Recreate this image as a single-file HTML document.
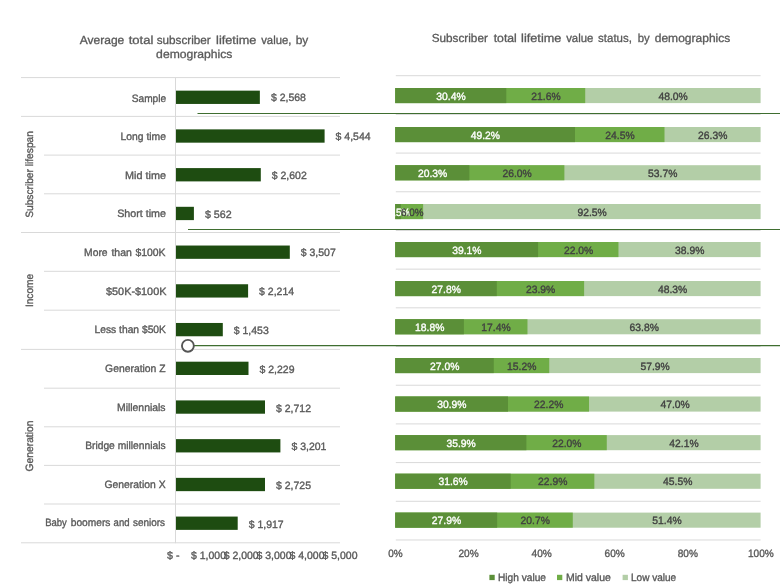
<!DOCTYPE html>
<html lang="en">
<head>
<meta charset="utf-8">
<title>Subscriber lifetime value by demographics</title>
<style>
html,body{margin:0;padding:0;background:#ffffff;}
body{width:780px;height:586px;overflow:hidden;}
svg{display:block;font-family:"Liberation Sans", sans-serif;text-rendering:geometricPrecision;}
</style>
</head>
<body>
<svg width="780" height="586" viewBox="0 0 780 586">
<rect x="0" y="0" width="780" height="586" fill="#ffffff"/>
<line x1="21" y1="77.60" x2="340" y2="77.60" stroke="#d9d9d9" stroke-width="1"/>
<line x1="21" y1="116.40" x2="340" y2="116.40" stroke="#d9d9d9" stroke-width="1"/>
<line x1="44" y1="155.10" x2="340" y2="155.10" stroke="#d9d9d9" stroke-width="1"/>
<line x1="44" y1="193.80" x2="340" y2="193.80" stroke="#d9d9d9" stroke-width="1"/>
<line x1="21" y1="232.50" x2="340" y2="232.50" stroke="#d9d9d9" stroke-width="1"/>
<line x1="44" y1="271.30" x2="340" y2="271.30" stroke="#d9d9d9" stroke-width="1"/>
<line x1="44" y1="310.20" x2="340" y2="310.20" stroke="#d9d9d9" stroke-width="1"/>
<line x1="21" y1="349.40" x2="340" y2="349.40" stroke="#d9d9d9" stroke-width="1"/>
<line x1="44" y1="388.20" x2="340" y2="388.20" stroke="#d9d9d9" stroke-width="1"/>
<line x1="44" y1="426.80" x2="340" y2="426.80" stroke="#d9d9d9" stroke-width="1"/>
<line x1="44" y1="465.40" x2="340" y2="465.40" stroke="#d9d9d9" stroke-width="1"/>
<line x1="44" y1="504.00" x2="340" y2="504.00" stroke="#d9d9d9" stroke-width="1"/>
<line x1="21" y1="542.80" x2="340" y2="542.80" stroke="#d9d9d9" stroke-width="1"/>
<line x1="175.5" y1="77.6" x2="175.5" y2="543.2" stroke="#d9d9d9" stroke-width="1"/>
<rect x="176.0" y="90.65" width="83.85" height="13.3" fill="#1e4c11"/>
<text y="101.6" font-size="10.6" fill="#595959" stroke="#595959" stroke-width="0.35"><tspan x="131.72" textLength="34.40" lengthAdjust="spacingAndGlyphs">Sample</tspan></text>
<text x="270.9" y="101.2" font-size="10.6" fill="#595959" stroke="#595959" stroke-width="0.35" text-anchor="start" textLength="35.0" lengthAdjust="spacingAndGlyphs">$ 2,568</text>
<rect x="176.0" y="129.37" width="148.60" height="13.3" fill="#1e4c11"/>
<text y="140.2" font-size="10.6" fill="#595959" stroke="#595959" stroke-width="0.35"><tspan x="120.54" textLength="45.42" lengthAdjust="spacingAndGlyphs">Long time</tspan></text>
<text x="335.6" y="140.0" font-size="10.6" fill="#595959" stroke="#595959" stroke-width="0.35" text-anchor="start" textLength="35.0" lengthAdjust="spacingAndGlyphs">$ 4,544</text>
<rect x="176.0" y="168.09" width="84.80" height="13.3" fill="#1e4c11"/>
<text y="178.8" font-size="10.6" fill="#595959" stroke="#595959" stroke-width="0.35"><tspan x="125.04" textLength="40.92" lengthAdjust="spacingAndGlyphs">Mid time</tspan></text>
<text x="271.8" y="178.8" font-size="10.6" fill="#595959" stroke="#595959" stroke-width="0.35" text-anchor="start" textLength="35.0" lengthAdjust="spacingAndGlyphs">$ 2,602</text>
<rect x="176.0" y="206.81" width="17.90" height="13.3" fill="#1e4c11"/>
<text y="217.4" font-size="10.6" fill="#595959" stroke="#595959" stroke-width="0.35"><tspan x="117.16" textLength="48.80" lengthAdjust="spacingAndGlyphs">Short time</tspan></text>
<text x="204.9" y="217.6" font-size="10.6" fill="#595959" stroke="#595959" stroke-width="0.35" text-anchor="start" textLength="26.7" lengthAdjust="spacingAndGlyphs">$ 562</text>
<rect x="176.0" y="245.53" width="113.80" height="13.3" fill="#1e4c11"/>
<text y="256.0" font-size="10.6" fill="#595959" stroke="#595959" stroke-width="0.35"><tspan x="84.10" textLength="23.48" lengthAdjust="spacingAndGlyphs">More</tspan> <tspan x="111.42" textLength="20.42" lengthAdjust="spacingAndGlyphs">than</tspan> <tspan x="135.42" textLength="30.16" lengthAdjust="spacingAndGlyphs">$100K</tspan></text>
<text x="300.8" y="256.4" font-size="10.6" fill="#595959" stroke="#595959" stroke-width="0.35" text-anchor="start" textLength="35.0" lengthAdjust="spacingAndGlyphs">$ 3,507</text>
<rect x="176.0" y="284.25" width="72.10" height="13.3" fill="#1e4c11"/>
<text y="294.6" font-size="10.6" fill="#595959" stroke="#595959" stroke-width="0.35"><tspan x="106.02" textLength="60.42" lengthAdjust="spacingAndGlyphs">$50K-$100K</tspan></text>
<text x="259.1" y="295.2" font-size="10.6" fill="#595959" stroke="#595959" stroke-width="0.35" text-anchor="start" textLength="35.0" lengthAdjust="spacingAndGlyphs">$ 2,214</text>
<rect x="176.0" y="322.97" width="46.80" height="13.3" fill="#1e4c11"/>
<text y="333.3" font-size="10.6" fill="#595959" stroke="#595959" stroke-width="0.35"><tspan x="94.48" textLength="71.48" lengthAdjust="spacingAndGlyphs">Less than $50K</tspan></text>
<text x="233.8" y="334.0" font-size="10.6" fill="#595959" stroke="#595959" stroke-width="0.35" text-anchor="start" textLength="35.0" lengthAdjust="spacingAndGlyphs">$ 1,453</text>
<rect x="176.0" y="361.69" width="72.50" height="13.3" fill="#1e4c11"/>
<text y="371.9" font-size="10.6" fill="#595959" stroke="#595959" stroke-width="0.35"><tspan x="105.10" textLength="60.48" lengthAdjust="spacingAndGlyphs">Generation Z</tspan></text>
<text x="259.5" y="372.8" font-size="10.6" fill="#595959" stroke="#595959" stroke-width="0.35" text-anchor="start" textLength="35.0" lengthAdjust="spacingAndGlyphs">$ 2,229</text>
<rect x="176.0" y="400.41" width="89.00" height="13.3" fill="#1e4c11"/>
<text y="410.5" font-size="10.6" fill="#595959" stroke="#595959" stroke-width="0.35"><tspan x="116.98" textLength="48.60" lengthAdjust="spacingAndGlyphs">Millennials</tspan></text>
<text x="276.0" y="411.6" font-size="10.6" fill="#595959" stroke="#595959" stroke-width="0.35" text-anchor="start" textLength="35.0" lengthAdjust="spacingAndGlyphs">$ 2,712</text>
<rect x="176.0" y="439.13" width="104.40" height="13.3" fill="#1e4c11"/>
<text y="449.1" font-size="10.6" fill="#595959" stroke="#595959" stroke-width="0.35"><tspan x="85.16" textLength="80.42" lengthAdjust="spacingAndGlyphs">Bridge millennials</tspan></text>
<text x="291.4" y="450.4" font-size="10.6" fill="#595959" stroke="#595959" stroke-width="0.35" text-anchor="start" textLength="35.0" lengthAdjust="spacingAndGlyphs">$ 3,201</text>
<rect x="176.0" y="477.85" width="89.00" height="13.3" fill="#1e4c11"/>
<text y="487.7" font-size="10.6" fill="#595959" stroke="#595959" stroke-width="0.35"><tspan x="104.54" textLength="61.04" lengthAdjust="spacingAndGlyphs">Generation X</tspan></text>
<text x="276.0" y="489.1" font-size="10.6" fill="#595959" stroke="#595959" stroke-width="0.35" text-anchor="start" textLength="35.0" lengthAdjust="spacingAndGlyphs">$ 2,725</text>
<rect x="176.0" y="516.57" width="61.70" height="13.3" fill="#1e4c11"/>
<text y="526.3" font-size="10.6" fill="#595959" stroke="#595959" stroke-width="0.35"><tspan x="45.16" textLength="21.70" lengthAdjust="spacingAndGlyphs">Baby</tspan> <tspan x="70.72" textLength="39.68" lengthAdjust="spacingAndGlyphs">boomers</tspan> <tspan x="113.60" textLength="15.92" lengthAdjust="spacingAndGlyphs">and</tspan> <tspan x="133.04" textLength="32.04" lengthAdjust="spacingAndGlyphs">seniors</tspan></text>
<text x="248.7" y="527.9" font-size="10.6" fill="#595959" stroke="#595959" stroke-width="0.35" text-anchor="start" textLength="35.0" lengthAdjust="spacingAndGlyphs">$ 1,917</text>
<text transform="translate(32.9,217.8) rotate(-90)" font-size="10.6" fill="#595959" stroke="#595959" stroke-width="0.35" textLength="86.7" lengthAdjust="spacingAndGlyphs">Subscriber lifespan</text>
<text transform="translate(32.9,307.1) rotate(-90)" font-size="10.6" fill="#595959" stroke="#595959" stroke-width="0.35" textLength="33.3" lengthAdjust="spacingAndGlyphs">Income</text>
<text transform="translate(32.9,471.4) rotate(-90)" font-size="10.6" fill="#595959" stroke="#595959" stroke-width="0.35" textLength="50.8" lengthAdjust="spacingAndGlyphs">Generation</text>
<text x="167.0" y="558.9" font-size="10.6" fill="#595959" stroke="#595959" stroke-width="0.35" text-anchor="start" textLength="12.5" lengthAdjust="spacingAndGlyphs">$ -</text>
<text x="191.0" y="558.9" font-size="10.6" fill="#595959" stroke="#595959" stroke-width="0.35" text-anchor="start" textLength="35.0" lengthAdjust="spacingAndGlyphs">$ 1,000</text>
<text x="223.7" y="558.9" font-size="10.6" fill="#595959" stroke="#595959" stroke-width="0.35" text-anchor="start" textLength="35.0" lengthAdjust="spacingAndGlyphs">$ 2,000</text>
<text x="256.5" y="558.9" font-size="10.6" fill="#595959" stroke="#595959" stroke-width="0.35" text-anchor="start" textLength="35.0" lengthAdjust="spacingAndGlyphs">$ 3,000</text>
<text x="289.5" y="558.9" font-size="10.6" fill="#595959" stroke="#595959" stroke-width="0.35" text-anchor="start" textLength="35.0" lengthAdjust="spacingAndGlyphs">$ 4,000</text>
<text x="322.5" y="558.9" font-size="10.6" fill="#595959" stroke="#595959" stroke-width="0.35" text-anchor="start" textLength="35.0" lengthAdjust="spacingAndGlyphs">$ 5,000</text>
<text y="44.0" font-size="11.7" fill="#595959" stroke="#595959" stroke-width="0.3"><tspan x="79.68" textLength="44.60" lengthAdjust="spacingAndGlyphs">Average</tspan> <tspan x="128.72" textLength="24.68" lengthAdjust="spacingAndGlyphs">total</tspan> <tspan x="156.72" textLength="54.06" lengthAdjust="spacingAndGlyphs">subscriber</tspan> <tspan x="216.14" textLength="40.26" lengthAdjust="spacingAndGlyphs">lifetime</tspan> <tspan x="261.18" textLength="30.22" lengthAdjust="spacingAndGlyphs">value,</tspan> <tspan x="295.68" textLength="12.60" lengthAdjust="spacingAndGlyphs">by</tspan></text>
<text y="58.4" font-size="11.7" fill="#595959" stroke="#595959" stroke-width="0.3"><tspan x="156.14" textLength="76.26" lengthAdjust="spacingAndGlyphs">demographics</tspan></text>
<line x1="395.8" y1="75.70" x2="760.6" y2="75.70" stroke="#d9d9d9" stroke-width="1"/>
<line x1="395.8" y1="114.39" x2="760.6" y2="114.39" stroke="#d9d9d9" stroke-width="1"/>
<line x1="395.8" y1="153.08" x2="760.6" y2="153.08" stroke="#d9d9d9" stroke-width="1"/>
<line x1="395.8" y1="191.77" x2="760.6" y2="191.77" stroke="#d9d9d9" stroke-width="1"/>
<line x1="395.8" y1="230.46" x2="760.6" y2="230.46" stroke="#d9d9d9" stroke-width="1"/>
<line x1="395.8" y1="269.15" x2="760.6" y2="269.15" stroke="#d9d9d9" stroke-width="1"/>
<line x1="395.8" y1="307.84" x2="760.6" y2="307.84" stroke="#d9d9d9" stroke-width="1"/>
<line x1="395.8" y1="346.53" x2="760.6" y2="346.53" stroke="#d9d9d9" stroke-width="1"/>
<line x1="395.8" y1="385.22" x2="760.6" y2="385.22" stroke="#d9d9d9" stroke-width="1"/>
<line x1="395.8" y1="423.91" x2="760.6" y2="423.91" stroke="#d9d9d9" stroke-width="1"/>
<line x1="395.8" y1="462.60" x2="760.6" y2="462.60" stroke="#d9d9d9" stroke-width="1"/>
<line x1="395.8" y1="501.29" x2="760.6" y2="501.29" stroke="#d9d9d9" stroke-width="1"/>
<line x1="395.8" y1="539.98" x2="760.6" y2="539.98" stroke="#d9d9d9" stroke-width="1"/>
<rect x="395.20" y="88.00" width="365.40" height="15.1" fill="#b3cea7"/>
<rect x="395.20" y="88.00" width="190.01" height="15.1" fill="#70ad47"/>
<rect x="395.20" y="88.00" width="111.08" height="15.1" fill="#5b8f38"/>
<text x="436.3" y="99.7" font-size="10.6" fill="#ffffff" stroke="#ffffff" stroke-width="0.35" text-anchor="start" textLength="29.3" lengthAdjust="spacingAndGlyphs">30.4%</text>
<text x="531.3" y="99.7" font-size="10.6" fill="#404040" stroke="#404040" stroke-width="0.35" text-anchor="start" textLength="29.3" lengthAdjust="spacingAndGlyphs">21.6%</text>
<text x="658.5" y="99.7" font-size="10.6" fill="#404040" stroke="#404040" stroke-width="0.35" text-anchor="start" textLength="29.3" lengthAdjust="spacingAndGlyphs">48.0%</text>
<rect x="395.20" y="127.00" width="365.40" height="15.1" fill="#b3cea7"/>
<rect x="395.20" y="127.00" width="269.30" height="15.1" fill="#70ad47"/>
<rect x="395.20" y="127.00" width="179.78" height="15.1" fill="#5b8f38"/>
<text x="470.7" y="138.7" font-size="10.6" fill="#ffffff" stroke="#ffffff" stroke-width="0.35" text-anchor="start" textLength="29.3" lengthAdjust="spacingAndGlyphs">49.2%</text>
<text x="605.3" y="138.7" font-size="10.6" fill="#404040" stroke="#404040" stroke-width="0.35" text-anchor="start" textLength="29.3" lengthAdjust="spacingAndGlyphs">24.5%</text>
<text x="698.1" y="138.7" font-size="10.6" fill="#404040" stroke="#404040" stroke-width="0.35" text-anchor="start" textLength="29.3" lengthAdjust="spacingAndGlyphs">26.3%</text>
<rect x="395.20" y="165.20" width="365.40" height="15.1" fill="#b3cea7"/>
<rect x="395.20" y="165.20" width="169.18" height="15.1" fill="#70ad47"/>
<rect x="395.20" y="165.20" width="74.18" height="15.1" fill="#5b8f38"/>
<text x="417.9" y="176.9" font-size="10.6" fill="#ffffff" stroke="#ffffff" stroke-width="0.35" text-anchor="start" textLength="29.3" lengthAdjust="spacingAndGlyphs">20.3%</text>
<text x="502.5" y="176.9" font-size="10.6" fill="#404040" stroke="#404040" stroke-width="0.35" text-anchor="start" textLength="29.3" lengthAdjust="spacingAndGlyphs">26.0%</text>
<text x="648.1" y="176.9" font-size="10.6" fill="#404040" stroke="#404040" stroke-width="0.35" text-anchor="start" textLength="29.3" lengthAdjust="spacingAndGlyphs">53.7%</text>
<rect x="395.20" y="204.00" width="365.40" height="15.1" fill="#b3cea7"/>
<rect x="395.20" y="204.00" width="27.92" height="15.1" fill="#70ad47"/>
<rect x="395.20" y="204.00" width="5.70" height="15.1" fill="#5b8f38"/>
<text x="387.7" y="215.7" font-size="10.6" fill="#ffffff" stroke="#ffffff" stroke-width="0.35" text-anchor="start" textLength="22.4" lengthAdjust="spacingAndGlyphs">1.5%</text>
<text x="401.1" y="215.7" font-size="10.6" fill="#404040" stroke="#404040" stroke-width="0.35" text-anchor="start" textLength="22.4" lengthAdjust="spacingAndGlyphs">6.0%</text>
<text x="577.5" y="215.7" font-size="10.6" fill="#404040" stroke="#404040" stroke-width="0.35" text-anchor="start" textLength="29.3" lengthAdjust="spacingAndGlyphs">92.5%</text>
<rect x="395.20" y="242.00" width="365.40" height="15.1" fill="#b3cea7"/>
<rect x="395.20" y="242.00" width="223.26" height="15.1" fill="#70ad47"/>
<rect x="395.20" y="242.00" width="142.87" height="15.1" fill="#5b8f38"/>
<text x="452.2" y="253.7" font-size="10.6" fill="#ffffff" stroke="#ffffff" stroke-width="0.35" text-anchor="start" textLength="29.3" lengthAdjust="spacingAndGlyphs">39.1%</text>
<text x="563.9" y="253.7" font-size="10.6" fill="#404040" stroke="#404040" stroke-width="0.35" text-anchor="start" textLength="29.3" lengthAdjust="spacingAndGlyphs">22.0%</text>
<text x="675.1" y="253.7" font-size="10.6" fill="#404040" stroke="#404040" stroke-width="0.35" text-anchor="start" textLength="29.3" lengthAdjust="spacingAndGlyphs">38.9%</text>
<rect x="395.20" y="281.00" width="365.40" height="15.1" fill="#b3cea7"/>
<rect x="395.20" y="281.00" width="188.91" height="15.1" fill="#70ad47"/>
<rect x="395.20" y="281.00" width="101.58" height="15.1" fill="#5b8f38"/>
<text x="431.6" y="292.7" font-size="10.6" fill="#ffffff" stroke="#ffffff" stroke-width="0.35" text-anchor="start" textLength="29.3" lengthAdjust="spacingAndGlyphs">27.8%</text>
<text x="526.0" y="292.7" font-size="10.6" fill="#404040" stroke="#404040" stroke-width="0.35" text-anchor="start" textLength="29.3" lengthAdjust="spacingAndGlyphs">23.9%</text>
<text x="658.0" y="292.7" font-size="10.6" fill="#404040" stroke="#404040" stroke-width="0.35" text-anchor="start" textLength="29.3" lengthAdjust="spacingAndGlyphs">48.3%</text>
<rect x="395.20" y="319.20" width="365.40" height="15.1" fill="#b3cea7"/>
<rect x="395.20" y="319.20" width="132.27" height="15.1" fill="#70ad47"/>
<rect x="395.20" y="319.20" width="68.70" height="15.1" fill="#5b8f38"/>
<text x="415.1" y="330.9" font-size="10.6" fill="#ffffff" stroke="#ffffff" stroke-width="0.35" text-anchor="start" textLength="29.3" lengthAdjust="spacingAndGlyphs">18.8%</text>
<text x="481.3" y="330.9" font-size="10.6" fill="#404040" stroke="#404040" stroke-width="0.35" text-anchor="start" textLength="29.3" lengthAdjust="spacingAndGlyphs">17.4%</text>
<text x="629.6" y="330.9" font-size="10.6" fill="#404040" stroke="#404040" stroke-width="0.35" text-anchor="start" textLength="29.3" lengthAdjust="spacingAndGlyphs">63.8%</text>
<rect x="395.20" y="358.00" width="365.40" height="15.1" fill="#b3cea7"/>
<rect x="395.20" y="358.00" width="154.04" height="15.1" fill="#70ad47"/>
<rect x="395.20" y="358.00" width="98.56" height="15.1" fill="#5b8f38"/>
<text x="430.1" y="369.7" font-size="10.6" fill="#ffffff" stroke="#ffffff" stroke-width="0.35" text-anchor="start" textLength="29.3" lengthAdjust="spacingAndGlyphs">27.0%</text>
<text x="507.1" y="369.7" font-size="10.6" fill="#404040" stroke="#404040" stroke-width="0.35" text-anchor="start" textLength="29.3" lengthAdjust="spacingAndGlyphs">15.2%</text>
<text x="640.5" y="369.7" font-size="10.6" fill="#404040" stroke="#404040" stroke-width="0.35" text-anchor="start" textLength="29.3" lengthAdjust="spacingAndGlyphs">57.9%</text>
<rect x="395.20" y="396.50" width="365.40" height="15.1" fill="#b3cea7"/>
<rect x="395.20" y="396.50" width="193.83" height="15.1" fill="#70ad47"/>
<rect x="395.20" y="396.50" width="112.80" height="15.1" fill="#5b8f38"/>
<text x="437.2" y="408.2" font-size="10.6" fill="#ffffff" stroke="#ffffff" stroke-width="0.35" text-anchor="start" textLength="29.3" lengthAdjust="spacingAndGlyphs">30.9%</text>
<text x="534.1" y="408.2" font-size="10.6" fill="#404040" stroke="#404040" stroke-width="0.35" text-anchor="start" textLength="29.3" lengthAdjust="spacingAndGlyphs">22.2%</text>
<text x="660.4" y="408.2" font-size="10.6" fill="#404040" stroke="#404040" stroke-width="0.35" text-anchor="start" textLength="29.3" lengthAdjust="spacingAndGlyphs">47.0%</text>
<rect x="395.20" y="435.10" width="365.40" height="15.1" fill="#b3cea7"/>
<rect x="395.20" y="435.10" width="211.57" height="15.1" fill="#70ad47"/>
<rect x="395.20" y="435.10" width="131.18" height="15.1" fill="#5b8f38"/>
<text x="446.4" y="446.8" font-size="10.6" fill="#ffffff" stroke="#ffffff" stroke-width="0.35" text-anchor="start" textLength="29.3" lengthAdjust="spacingAndGlyphs">35.9%</text>
<text x="552.2" y="446.8" font-size="10.6" fill="#404040" stroke="#404040" stroke-width="0.35" text-anchor="start" textLength="29.3" lengthAdjust="spacingAndGlyphs">22.0%</text>
<text x="669.3" y="446.8" font-size="10.6" fill="#404040" stroke="#404040" stroke-width="0.35" text-anchor="start" textLength="29.3" lengthAdjust="spacingAndGlyphs">42.1%</text>
<rect x="395.20" y="473.70" width="365.40" height="15.1" fill="#b3cea7"/>
<rect x="395.20" y="473.70" width="199.14" height="15.1" fill="#70ad47"/>
<rect x="395.20" y="473.70" width="115.47" height="15.1" fill="#5b8f38"/>
<text x="438.5" y="485.4" font-size="10.6" fill="#ffffff" stroke="#ffffff" stroke-width="0.35" text-anchor="start" textLength="29.3" lengthAdjust="spacingAndGlyphs">31.6%</text>
<text x="538.1" y="485.4" font-size="10.6" fill="#404040" stroke="#404040" stroke-width="0.35" text-anchor="start" textLength="29.3" lengthAdjust="spacingAndGlyphs">22.9%</text>
<text x="663.1" y="485.4" font-size="10.6" fill="#404040" stroke="#404040" stroke-width="0.35" text-anchor="start" textLength="29.3" lengthAdjust="spacingAndGlyphs">45.5%</text>
<rect x="395.20" y="512.60" width="365.40" height="15.1" fill="#b3cea7"/>
<rect x="395.20" y="512.60" width="177.58" height="15.1" fill="#70ad47"/>
<rect x="395.20" y="512.60" width="101.95" height="15.1" fill="#5b8f38"/>
<text x="431.8" y="524.3" font-size="10.6" fill="#ffffff" stroke="#ffffff" stroke-width="0.35" text-anchor="start" textLength="29.3" lengthAdjust="spacingAndGlyphs">27.9%</text>
<text x="520.6" y="524.3" font-size="10.6" fill="#404040" stroke="#404040" stroke-width="0.35" text-anchor="start" textLength="29.3" lengthAdjust="spacingAndGlyphs">20.7%</text>
<text x="652.3" y="524.3" font-size="10.6" fill="#404040" stroke="#404040" stroke-width="0.35" text-anchor="start" textLength="29.3" lengthAdjust="spacingAndGlyphs">51.4%</text>
<text x="388.3" y="557.0" font-size="10.6" fill="#595959" stroke="#595959" stroke-width="0.35" text-anchor="start" textLength="14.4" lengthAdjust="spacingAndGlyphs">0%</text>
<text x="458.5" y="557.0" font-size="10.6" fill="#595959" stroke="#595959" stroke-width="0.35" text-anchor="start" textLength="20.2" lengthAdjust="spacingAndGlyphs">20%</text>
<text x="531.6" y="557.0" font-size="10.6" fill="#595959" stroke="#595959" stroke-width="0.35" text-anchor="start" textLength="20.2" lengthAdjust="spacingAndGlyphs">40%</text>
<text x="604.6" y="557.0" font-size="10.6" fill="#595959" stroke="#595959" stroke-width="0.35" text-anchor="start" textLength="20.2" lengthAdjust="spacingAndGlyphs">60%</text>
<text x="677.7" y="557.0" font-size="10.6" fill="#595959" stroke="#595959" stroke-width="0.35" text-anchor="start" textLength="20.2" lengthAdjust="spacingAndGlyphs">80%</text>
<text x="748.0" y="557.0" font-size="10.6" fill="#595959" stroke="#595959" stroke-width="0.35" text-anchor="start" textLength="25.8" lengthAdjust="spacingAndGlyphs">100%</text>
<text y="42.3" font-size="11.7" fill="#595959" stroke="#595959" stroke-width="0.3"><tspan x="431.74" textLength="56.10" lengthAdjust="spacingAndGlyphs">Subscriber</tspan> <tspan x="493.72" textLength="23.10" lengthAdjust="spacingAndGlyphs">total</tspan> <tspan x="521.14" textLength="40.26" lengthAdjust="spacingAndGlyphs">lifetime</tspan> <tspan x="566.18" textLength="27.22" lengthAdjust="spacingAndGlyphs">value</tspan> <tspan x="598.10" textLength="33.80" lengthAdjust="spacingAndGlyphs">status,</tspan> <tspan x="637.68" textLength="12.02" lengthAdjust="spacingAndGlyphs">by</tspan> <tspan x="654.76" textLength="75.52" lengthAdjust="spacingAndGlyphs">demographics</tspan></text>
<rect x="489.4" y="574.8" width="5.3" height="5.3" fill="#5b8f38"/>
<text x="498.0" y="581.0" font-size="10.6" fill="#595959" stroke="#595959" stroke-width="0.35" text-anchor="start" textLength="48.0" lengthAdjust="spacingAndGlyphs">High value</text>
<rect x="557.0" y="574.8" width="5.3" height="5.3" fill="#70ad47"/>
<text x="566.0" y="581.0" font-size="10.6" fill="#595959" stroke="#595959" stroke-width="0.35" text-anchor="start" textLength="44.8" lengthAdjust="spacingAndGlyphs">Mid value</text>
<rect x="622.6" y="574.8" width="5.3" height="5.3" fill="#b3cea7"/>
<text x="631.0" y="581.0" font-size="10.6" fill="#595959" stroke="#595959" stroke-width="0.35" text-anchor="start" textLength="45.2" lengthAdjust="spacingAndGlyphs">Low value</text>
<line x1="197.5" y1="113.5" x2="780" y2="113.5" stroke="#3f6e30" stroke-width="1.2"/>
<line x1="188" y1="229.5" x2="780" y2="229.5" stroke="#3f6e30" stroke-width="1.2"/>
<line x1="194" y1="345.6" x2="780" y2="345.6" stroke="#3f6e30" stroke-width="1.2"/>
<circle cx="187.9" cy="345.8" r="5.95" fill="#ffffff" stroke="#555555" stroke-width="1.9"/>
</svg>
</body>
</html>
